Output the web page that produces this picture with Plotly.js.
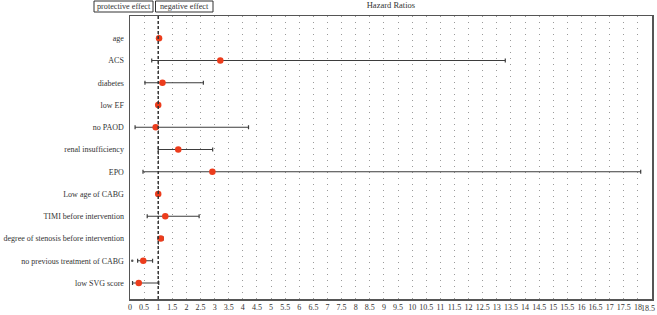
<!DOCTYPE html>
<html>
<head>
<meta charset="utf-8">
<script src="https://cdn.plot.ly/plotly-3.0.1.min.js"></script>
<style>html,body{margin:0;padding:0;background:#fff;}#chart{width:657px;height:315px;}</style>
</head>
<body>
<div id="chart"></div>
<script>
// Data
const categories = ["age", "ACS", "diabetes", "low EF", "no PAOD", "renal insufficiency", "EPO",
  "Low age of CABG", "TIMI before intervention", "degree of stenosis before intervention",
  "no previous treatment of CABG", "low SVG score"];
const hazardRatio = [1.03, 3.2, 1.15, 1.0, 0.91, 1.71, 2.92, 1.0, 1.25, 1.09, 0.47, 0.31];
const ciLower     = [1.0, 0.77, 0.53, 0.98, 0.18, 1.0, 0.46, 0.95, 0.61, 0.99, 0.27, 0.09];
const ciUpper     = [1.06, 13.3, 2.6, 1.03, 4.2, 2.93, 18.1, 1.07, 2.45, 1.18, 0.8, 1.02];
const extraDotCategory = ["no previous treatment of CABG"];
const extraDotValue = [0.08];
const xTickValues = [0, 0.5, 1, 1.5, 2, 2.5, 3, 3.5, 4, 4.5, 5, 5.5, 6, 6.5, 7, 7.5, 8, 8.5, 9, 9.5,
  10, 10.5, 11, 11.5, 12, 12.5, 13, 13.5, 14, 14.5, 15, 15.5, 16, 16.5, 17, 17.5, 18, 18.5];
const xTickLabels = ["0", "0.5", "1", "1.5", "2", "2.5", "3", "3.5", "4", "4.5", "5", "5.5", "6", "6.5",
  "7", "7.5", "8", "8.5", "9", "9.5", "10", "10.5", "11", "11.5", "12", "12.5", "13", "13.5",
  "14", "14.5", "15", "15.5", "16", "16.5", "17", "17.5", "18", ""];
const lastTickLabel = "18.5";

const n = categories.length;
const yPos = categories.map((c, i) => n - i);

const serif = "'Liberation Serif', 'DejaVu Serif', serif";

const traces = [
  {
    type: "scatter", mode: "markers",
    x: hazardRatio, y: yPos,
    marker: {color: "#ec3c1c", size: 6.5, line: {width: 0}},
    error_x: {
      type: "data", symmetric: false,
      array: hazardRatio.map((h, i) => ciUpper[i] - h),
      arrayminus: hazardRatio.map((h, i) => h - ciLower[i]),
      color: "#3d3d3d", thickness: 1.2, width: 2
    },
    hoverinfo: "x+text", text: categories, showlegend: false
  },
  {
    type: "scatter", mode: "markers",
    x: extraDotValue, y: extraDotCategory.map(c => n - categories.indexOf(c)),
    marker: {color: "#555", size: 2.5}, showlegend: false, hoverinfo: "skip"
  }
];

const px2paperX = p => (p - 130) / 522;
const px2paperY = p => (299 - p) / 283;

const layout = {
  width: 657, height: 315,
  margin: {l: 130, r: 5, t: 16, b: 16, pad: 0},
  paper_bgcolor: "#fff", plot_bgcolor: "#fff",
  font: {family: serif, color: "#333", size: 8.5},
  title: {text: "Hazard Ratios", font: {family: serif, size: 8.5, color: "#333"},
          x: 0.595, xref: "container", xanchor: "center", y: 0.992, yref: "container", yanchor: "top"},
  xaxis: {
    range: [0, 18.5], tickvals: xTickValues, ticktext: xTickLabels, tickangle: 0,
    showgrid: true, gridcolor: "#9a9a9a", gridwidth: 1, griddash: "1px,5px",
    zeroline: false, showline: true, mirror: true, linecolor: "#555", linewidth: 1.5,
    ticks: "", tickfont: {family: serif, size: 8, color: "#333"}, fixedrange: true
  },
  yaxis: {
    range: [0.28, 13], tickvals: yPos, ticktext: categories,
    showgrid: false, zeroline: false, showline: true, mirror: true, linecolor: "#555", linewidth: 1.5,
    ticks: "", ticklabelstandoff: 3, tickfont: {family: serif, size: 8, color: "#333"}, fixedrange: true
  },
  shapes: [
    {type: "line", xref: "x", yref: "paper", x0: 1, x1: 1, y0: 0, y1: 1,
     line: {color: "#333", width: 1.5, dash: "3px,2px"}},
    {type: "rect", xref: "paper", yref: "paper", x0: px2paperX(94), x1: px2paperX(153),
     y0: px2paperY(12), y1: px2paperY(1), line: {color: "#333", width: 1}, fillcolor: "rgba(0,0,0,0)"},
    {type: "rect", xref: "paper", yref: "paper", x0: px2paperX(155.5), x1: px2paperX(213),
     y0: px2paperY(12), y1: px2paperY(1), line: {color: "#333", width: 1}, fillcolor: "rgba(0,0,0,0)"}
  ],
  annotations: [
    {xref: "paper", yref: "paper", x: (px2paperX(94) + px2paperX(153)) / 2, y: (px2paperY(12) + px2paperY(1)) / 2,
     text: "protective effect", showarrow: false, xanchor: "center", yanchor: "middle",
     font: {family: serif, size: 8.2, color: "#333"}},
    {xref: "paper", yref: "paper", x: (px2paperX(155.5) + px2paperX(213)) / 2, y: (px2paperY(12) + px2paperY(1)) / 2,
     text: "negative effect", showarrow: false, xanchor: "center", yanchor: "middle",
     font: {family: serif, size: 8.2, color: "#333"}},
    {xref: "paper", yref: "paper", x: px2paperX(656), y: px2paperY(308), xanchor: "right", yanchor: "middle",
     text: lastTickLabel, showarrow: false, borderpad: 0,
     font: {family: serif, size: 8, color: "#333"}}
  ]
};

Plotly.newPlot("chart", traces, layout, {displayModeBar: false, staticPlot: true});
</script>
</body>
</html>
